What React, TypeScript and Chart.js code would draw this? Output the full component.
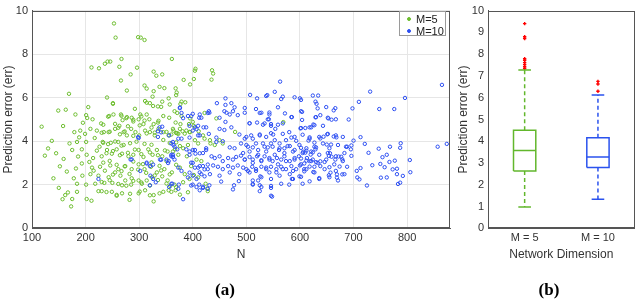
import React, { useEffect, useRef } from 'react';
import { Chart, registerables } from 'chart.js';

Chart.register(...registerables);
Chart.defaults.font.family = "'Liberation Sans', Arial, Helvetica, sans-serif";
Chart.defaults.color = '#333333';

// ---------- (a) scatter data: [N, prediction error] ----------
const m5Points: [number, number][] = [
  [253, 9.41], [256, 8.76], [298, 8.78], [303, 8.76], [310, 8.65],
  [211, 7.39], [225, 7.35], [236, 7.56], [241, 7.66], [246, 7.66], [267, 7.78], [263, 7.42], [296, 7.38], [284, 7.07], [327, 7.2], [332, 7.01], [343, 7.07], [361, 7.78],
  [383, 6.82], [405, 7.33], [404, 7.24], [402, 6.86], [395, 6.61], [436, 7.26], [438, 7.11], [435, 6.83],
  [266, 6.79], [277, 6.33], [310, 6.56], [314, 6.42], [327, 6.3], [338, 6.5], [347, 6.44], [355, 5.97], [368, 6.43], [370, 6.24], [369, 6.12],
  [169, 6.18], [240, 6.01], [251, 5.75], [149, 5.41], [163, 5.45], [181, 5.23], [205, 5.57], [201, 5.2], [203, 5.07], [118, 4.67], [130, 3.67],
  [311, 5.85], [320, 5.75], [325, 6.05], [335, 5.6], [343, 5.82], [379, 5.82], [386, 5.79], [377, 5.71],
  [213, 5.01], [229, 4.82], [244, 5.16], [252, 5.23], [266, 5.23], [269, 4.97], [277, 5.11], [286, 5.08], [289, 4.91], [299, 5.01], [302, 5.23], [314, 5.23], [319, 5.01], [308, 4.79], [327, 4.79], [336, 4.94], [345, 5.16], [356, 5.08], [366, 5.38], [368, 4.86], [377, 4.79],
  [179, 4.42], [190, 4.49], [199, 4.34], [209, 4.57], [221, 4.49], [234, 4.42], [243, 4.42],
  [255, 4.57], [263, 4.71], [271, 4.42], [277, 4.27], [285, 4.57], [293, 4.42], [300, 4.27], [311, 4.49],
  [320, 4.42], [329, 4.27], [336, 4.57], [345, 4.42], [355, 4.27], [364, 4.49], [373, 4.34],
  [184, 3.97], [201, 3.97], [232, 3.97], [247, 3.93], [261, 3.97], [271, 3.83],
  [124, 3.34], [159, 3.19], [175, 3.6], [193, 3.63], [202, 3.38],
  [214, 3.23], [221, 3.57], [230, 3.31], [240, 3.6], [249, 3.43], [258, 3.63], [268, 3.43], [280, 3.31],
  [289, 3.38], [299, 3.6], [308, 3.28], [317, 3.63], [325, 3.38], [333, 3.6], [343, 3.31], [353, 3.53], [367, 3.63],
  [193, 2.98], [212, 2.79], [227, 2.83], [246, 2.89], [261, 2.72], [274, 2.86],
  [286, 2.72], [299, 2.94], [310, 2.72], [322, 2.83], [333, 2.57], [347, 2.72], [361, 2.57],
  [165, 2.61], [182, 2.75], [194, 2.42], [209, 2.49], [224, 2.42], [243, 2.35], [255, 2.57],
  [265, 2.42], [274, 2.2], [286, 2.3], [299, 2.2], [314, 2.2], [324, 2.35], [343, 2.39], [353, 2.2],
  [184, 2.05], [201, 2.01], [218, 2.05], [235, 2.09], [250, 2.09], [268, 1.98], [285, 2.01], [305, 2.05],
  [150, 1.86], [162, 1.53], [167, 1.65], [157, 1.34], [175, 1.35], [184, 1.68], [173, 1.01],
  [202, 1.35], [211, 1.27], [224, 1.71], [230, 1.71], [249, 1.68], [258, 1.5], [268, 1.61], [282, 1.31], [299, 1.61],
  [311, 1.75], [327, 1.53], [345, 1.68], [355, 1.75], [327, 1.24], [358, 1.95],
  [422, 5.3], [371, 5.3], [379, 5.16], [395, 5.05], [400, 4.89], [393, 4.79], [402, 4.71], [388, 4.49], [395, 4.42],
  [363, 4.57], [376, 4.57], [381, 4.46], [371, 4.37],
  [411, 4.46], [419, 4.27], [422, 4.12], [432, 4.05], [433, 3.9], [441, 3.83], [444, 5.05],
  [479, 4.43], [450, 4.05], [569, 4.88],
  [404, 4.05], [410, 3.9], [391, 3.83], [382, 3.68], [376, 3.78],
  [363, 3.53], [373, 3.38], [389, 3.31], [407, 3.16], [416, 3.09], [397, 2.86], [456, 3.9],
  [376, 2.79], [385, 2.49], [402, 2.45], [410, 2.34], [394, 2.27],
  [366, 2.01], [368, 1.75], [360, 1.68], [427, 1.83], [428, 1.71], [424, 2.05],
  // denser core (read from a closer look)
  [251, 5.72], [292, 5.49], [314, 5.77], [326, 5.62], [341, 5.58], [357, 5.69],
  [242, 5.13], [267, 5.17], [276, 5.06], [289, 4.99], [304, 5.14], [233, 4.76], [255, 4.8], [261, 4.62], [279, 4.69], [301, 4.73], [310, 4.95], [323, 4.63], [335, 4.86],
  [230, 4.39], [245, 4.44], [264, 4.32], [273, 4.45], [289, 4.25], [314, 4.36], [329, 4.4], [351, 4.43], [360, 4.31], [369, 4.38], [385, 4.35], [394, 4.43],
  [233, 3.93], [242, 3.87], [255, 3.99], [267, 3.8], [283, 3.91], [295, 3.98], [310, 3.88], [323, 3.84], [345, 4.06], [357, 3.92], [369, 3.95],
  [239, 3.45], [251, 3.55], [264, 3.36], [279, 3.47], [292, 3.62], [304, 3.41], [320, 3.49], [335, 3.36], [348, 3.58],
  [233, 3.02], [245, 3.1], [258, 2.92], [273, 2.85], [289, 3.07], [307, 2.95], [323, 3.03], [338, 2.87], [351, 3.09], [369, 2.92],
  [236, 2.65], [251, 2.47], [267, 2.63], [282, 2.5], [298, 2.7], [313, 2.55], [329, 2.43], [341, 2.66], [357, 2.48],
  [230, 2.13], [245, 2.21], [261, 2.04], [276, 1.96], [289, 2.18], [304, 2.11], [320, 1.97], [335, 2.22], [351, 2.06], [369, 1.89], [382, 2.12],
  [239, 1.67], [258, 1.54], [283, 1.59], [301, 1.69], [320, 1.52], [338, 1.61], [376, 1.55], [391, 1.66],
  [137, 4.02], [145, 3.45], [152, 2.85], [140, 2.3], [188, 4.18], [170, 3.9], [158, 4.7], [195, 4.85], [178, 2.3], [186, 3.3], [215, 2.65], [207, 3.05], [217, 4.15], [226, 3.75],
];

const m10Points: [number, number][] = [
  [865, 6.59], [731, 6.28], [796, 5.99], [624, 6.1], [634, 6.1], [602, 5.9], [629, 5.82], [631, 5.72], [649, 5.57], [666, 5.52], [663, 5.42], [633, 5.51], [698, 5.51], [710, 5.81], [748, 5.48], [776, 5.48],
  [604, 5.35], [638, 5.2], [629, 5.1], [653, 5.05], [659, 4.99], [691, 5.0], [604, 4.98], [625, 4.77], [610, 4.61], [601, 4.59],
  [651, 4.32], [663, 4.22], [668, 4.18], [638, 4.13], [644, 4.21], [605, 4.3], [618, 4.18], [616, 4.03], [713, 4.19], [700, 4.03], [696, 3.81],
  [627, 3.94], [650, 3.85], [658, 3.85], [721, 3.88], [788, 3.91], [787, 3.7], [857, 3.75], [874, 3.88], [747, 3.66], [768, 3.75], [688, 3.75], [695, 3.63], [629, 3.63], [602, 3.7], [606, 3.52],
  [620, 3.39], [610, 3.48], [656, 3.45], [654, 3.33], [659, 3.29], [672, 3.3], [677, 3.29], [679, 3.17], [696, 3.33], [728, 3.47], [754, 3.27], [762, 3.38], [777, 3.11], [767, 3.05], [805, 3.14], [806, 2.58],
  [602, 3.21], [612, 3.11], [608, 2.98], [600, 2.89], [624, 3.16], [630, 3.04], [638, 3.08], [646, 3.05], [618, 2.84], [627, 2.83], [638, 2.86], [655, 2.81], [666, 3.16], [674, 2.84], [688, 2.83],
  [735, 2.9], [750, 2.96], [758, 2.81], [773, 2.71], [781, 2.74], [781, 2.49], [713, 2.77], [706, 2.64], [625, 2.59], [608, 2.62], [602, 2.37], [657, 2.56], [654, 2.44], [669, 2.48], [679, 2.48],
  [636, 2.31], [669, 2.33], [707, 2.34], [711, 2.25], [751, 2.33], [762, 2.34], [792, 2.41], [787, 2.1], [783, 2.04], [618, 2.16], [725, 1.97],
  [563, 6.74], [507, 6.13], [520, 5.97], [537, 6.08], [553, 6.27], [568, 6.05], [590, 6.02], [600, 5.97], [539, 6.12], [565, 5.94], [461, 5.97],
  [445, 5.75], [472, 5.75], [459, 5.38], [475, 5.38], [463, 5.31],
  [497, 5.53], [518, 5.48], [528, 5.31], [543, 5.23], [559, 5.56], [572, 5.28], [585, 5.11],
  [379, 5.3], [391, 5.16], [400, 5.26], [416, 5.08], [431, 5.31],
  [376, 5.52], [404, 4.64], [412, 5.08], [420, 4.64], [430, 5.38], [450, 5.08], [461, 5.67], [469, 5.23], [478, 5.56], [379, 4.12], [430, 4.34], [444, 3.97],
  [484, 5.2], [506, 4.83], [520, 4.86], [534, 4.82], [546, 4.79], [542, 5.01], [559, 4.76], [554, 4.57], [568, 4.82],
  [461, 4.89], [450, 4.57], [459, 4.52], [472, 4.64], [618, 4.64], [627, 4.74],
  [400, 4.49], [410, 4.71], [413, 4.27], [394, 4.17],
  [487, 4.31], [497, 4.12], [509, 4.27], [525, 4.31], [537, 4.2],
  [546, 4.37], [553, 4.05], [562, 3.9], [574, 4.05], [584, 4.17], [593, 4.02],
  [444, 4.17], [456, 4.0], [469, 3.72], [478, 3.68],
  [500, 3.83], [512, 3.72], [522, 3.6], [531, 3.9], [540, 3.72],
  [549, 3.75], [561, 3.6], [571, 3.68], [581, 3.78], [590, 3.6], [612, 3.57], [624, 3.49], [630, 3.72],
  [363, 3.97], [371, 3.63], [360, 3.31], [366, 3.16],
  [388, 3.63], [400, 3.6], [394, 3.38], [405, 3.43], [419, 3.46], [425, 3.68], [435, 3.31],
  [441, 3.23], [450, 3.31], [456, 3.09], [466, 3.23], [475, 3.16], [481, 3.28],
  [490, 3.34], [497, 3.16], [506, 3.28], [512, 3.16], [520, 3.31],
  [528, 3.13], [534, 3.31], [543, 3.23], [549, 3.09], [557, 3.23],
  [565, 3.16], [571, 3.31], [581, 3.09], [590, 3.23], [598, 3.31], [613, 3.23], [621, 3.09],
  [400, 3.01], [410, 2.79], [419, 2.86], [428, 2.72], [438, 2.89],
  [447, 2.83], [456, 2.72], [466, 2.86], [475, 2.79], [484, 2.89],
  [494, 2.79], [503, 2.64], [511, 2.83], [518, 2.72], [528, 2.83],
  [537, 2.72], [546, 2.83], [556, 2.72], [565, 2.83], [574, 2.72], [584, 2.86], [593, 2.72], [612, 2.72],
  [413, 2.57], [422, 2.39], [432, 2.49], [450, 2.42], [469, 2.57],
  [487, 2.49], [506, 2.57], [526, 2.39], [543, 2.57], [562, 2.42], [581, 2.49],
  [391, 2.34], [400, 2.01], [412, 2.01], [419, 1.86], [431, 1.98],
  [453, 2.15], [477, 1.98], [486, 2.17], [525, 1.98], [546, 1.95], [585, 2.27], [599, 2.39],
  [525, 1.71], [546, 1.5], [382, 1.34], [522, 2.2], [512, 2.04], [475, 1.79],
  [343, 4.67], [335, 4.46], [299, 4.15], [373, 4.12], [356, 4.27], [364, 3.83],
  [284, 3.16], [314, 2.98], [320, 2.86], [302, 2.64], [339, 3.16], [355, 3.09], [360, 3.38], [363, 3.28],
  [224, 2.27], [331, 2.12], [320, 1.98], [356, 1.9], [362, 2.05], [374, 2.01],
  // denser core (read from a closer look)
  [376, 5.55], [382, 5.06], [397, 5.15], [413, 5.23], [428, 5.3], [394, 4.71], [407, 4.56], [425, 4.64], [410, 4.27],
  [338, 4.64], [341, 4.41], [298, 4.19], [335, 4.2], [360, 3.9], [366, 3.75], [394, 3.53], [404, 3.6], [413, 3.45], [425, 3.6],
  [363, 3.38], [351, 3.16], [286, 3.17], [314, 3.02], [326, 2.93], [341, 3.15], [354, 3.0], [397, 3.02], [404, 2.79], [413, 2.86], [422, 2.71], [428, 2.93],
  [373, 2.79], [379, 2.64], [394, 2.56], [400, 2.42], [407, 2.27], [416, 2.49], [321, 2.42], [326, 2.27], [360, 2.05], [373, 1.82], [397, 1.97], [407, 1.9], [413, 1.75], [419, 1.91], [428, 1.82],
  [497, 5.31], [525, 5.3], [543, 5.32], [540, 5.01], [546, 4.71], [506, 4.82], [531, 4.76], [584, 5.11], [602, 5.38], [630, 5.11], [652, 5.08], [667, 5.01], [602, 4.61], [621, 4.64], [643, 4.71],
  [500, 4.2], [512, 4.12], [525, 4.27], [550, 4.31], [568, 4.34], [580, 4.42], [590, 4.2], [618, 4.12], [636, 4.2], [652, 4.34], [667, 4.27], [680, 4.2],
  [490, 3.9], [503, 3.75], [518, 3.9], [534, 3.75], [546, 3.9], [562, 3.68], [577, 3.78], [599, 3.83], [612, 3.68], [627, 3.75], [643, 3.9], [655, 3.68], [671, 3.83], [686, 3.75],
  [494, 3.46], [506, 3.53], [522, 3.38], [537, 3.53], [553, 3.38], [571, 3.46], [587, 3.53], [605, 3.46], [621, 3.53], [636, 3.38], [652, 3.46], [667, 3.31], [683, 3.46],
  [497, 3.16], [512, 3.01], [528, 3.09], [543, 3.16], [559, 2.94], [574, 3.09], [590, 3.16], [602, 2.94], [618, 3.09], [633, 3.01], [649, 3.16], [664, 2.94], [680, 3.09],
  [500, 2.72], [518, 2.64], [537, 2.79], [556, 2.57], [568, 2.72], [587, 2.64], [608, 2.72], [627, 2.57], [646, 2.72], [667, 2.64], [683, 2.49],
  [512, 2.2], [528, 2.35], [546, 2.27], [565, 2.05], [587, 2.27], [605, 2.05], [636, 2.27], [655, 2.35], [671, 2.2],
  [512, 2.01], [528, 1.9], [546, 1.86], [580, 2.01], [548, 1.46],
];

const seriesLabels = ['M=5', 'M=10'];
const scatterXTicks = [100, 200, 300, 400, 500, 600, 700, 800];
const scatterYTicks = [0, 2, 4, 6, 8, 10];

// ---------- (b) box plot statistics ----------
const boxLabels = ['M = 5', 'M = 10'];
const boxQ1 = [2.63, 2.8];
const boxMedian = [3.58, 3.28];
const boxQ3 = [4.51, 4.16];
const boxWhiskerLow = [0.98, 1.34];
const boxWhiskerHigh = [7.27, 6.12];
const boxOutliers: number[][] = [
  [7.34, 7.42, 7.52, 7.61, 7.72, 7.79, 8.72, 8.8, 9.4],
  [6.3, 6.63, 6.75],
];

const GREEN = '#6dbd2f';
const BLUE = '#2d4ff2';
const BOX_GREEN = '#62b72c';
const BOX_BLUE = '#2a52ee';
const AXIS = '#555555';

const framePlugin = {
  id: 'frame',
  afterDraw(chart: any) {
    const { ctx, chartArea: a } = chart;
    ctx.save();
    ctx.strokeStyle = AXIS;
    ctx.lineWidth = 1;
    const l = Math.round(a.left) + 0.5;
    const t = Math.round(a.top) + 0.5;
    const r = Math.round(a.right) - 0.5;
    const b = Math.round(a.bottom) - 0.5;
    ctx.strokeRect(l, t, r - l, b - t);
    ctx.restore();
  },
};

const tickFont = { size: 11 };
const titleFont = { size: 12 };

function ScatterChart() {
  const ref = useRef<HTMLCanvasElement>(null);
  useEffect(() => {
    if (!ref.current) return;
    const chart = new Chart(ref.current, {
      type: 'scatter',
      data: {
        datasets: [
          {
            label: seriesLabels[1],
            data: m10Points.map(([x, y]) => ({ x, y })),
            borderColor: BLUE,
            backgroundColor: 'rgba(0,0,0,0)',
            pointRadius: 1.7,
            pointBorderWidth: 1,
            order: 0,
          },
          {
            label: seriesLabels[0],
            data: m5Points.map(([x, y]) => ({ x, y })),
            borderColor: GREEN,
            backgroundColor: 'rgba(0,0,0,0)',
            pointRadius: 1.7,
            pointBorderWidth: 1,
            order: 1,
          },
        ],
      },
      options: {
        animation: false,
        responsive: false,
        events: [],
        layout: { padding: { left: 0, top: 6, right: 10, bottom: 37 } },
        plugins: { legend: { display: false }, tooltip: { enabled: false } },
        scales: {
          x: {
            type: 'linear',
            min: 100,
            max: 880,
            afterBuildTicks: (s: any) => {
              s.ticks = scatterXTicks.map((v) => ({ value: v }));
            },
            ticks: { font: tickFont, padding: 3, color: '#333' },
            grid: { color: '#e6e6e6', drawTicks: false },
            border: { color: AXIS },
            title: { display: true, text: 'N', font: titleFont, padding: { top: 0, bottom: 4 }, color: '#333' },
          },
          y: {
            type: 'linear',
            min: 0,
            max: 10,
            afterBuildTicks: (s: any) => {
              s.ticks = scatterYTicks.map((v) => ({ value: v }));
            },
            afterFit: (s: any) => {
              s.width = 32;
            },
            ticks: { font: tickFont, padding: 4, color: '#333' },
            grid: { color: '#e6e6e6', drawTicks: false },
            border: { color: AXIS },
            title: { display: true, text: 'Prediction error (err)', font: titleFont, padding: { top: 1, bottom: 0 }, color: '#333' },
          },
        },
      } as any,
      plugins: [framePlugin],
    });
    return () => chart.destroy();
  }, []);
  return <canvas ref={ref} width={460} height={303} style={{ position: 'absolute', left: 0, top: 0 }} />;
}

function BoxChart() {
  const ref = useRef<HTMLCanvasElement>(null);
  useEffect(() => {
    if (!ref.current) return;
    const BW = 0.152;
    const CW = 0.086;
    const colors = [BOX_GREEN, BOX_BLUE];
    const datasets: any[] = boxLabels.flatMap((_, i) => {
      const c = i + 1;
      const col = colors[i];
      const line = (pts: { x: number; y: number }[], dash: number[] = []) => ({
        data: pts,
        showLine: true,
        borderColor: col,
        backgroundColor: col,
        borderWidth: 1.5,
        borderDash: dash,
        pointRadius: 0,
        fill: false,
        tension: 0,
      });
      return [
        line([
          { x: c - BW, y: boxQ1[i] },
          { x: c + BW, y: boxQ1[i] },
          { x: c + BW, y: boxQ3[i] },
          { x: c - BW, y: boxQ3[i] },
          { x: c - BW, y: boxQ1[i] },
        ]),
        line([
          { x: c - BW, y: boxMedian[i] },
          { x: c + BW, y: boxMedian[i] },
        ]),
        line([
          { x: c, y: boxQ3[i] },
          { x: c, y: boxWhiskerHigh[i] },
        ], [4, 3]),
        line([
          { x: c, y: boxQ1[i] },
          { x: c, y: boxWhiskerLow[i] },
        ], [4, 3]),
        line([
          { x: c - CW, y: boxWhiskerHigh[i] },
          { x: c + CW, y: boxWhiskerHigh[i] },
        ]),
        line([
          { x: c - CW, y: boxWhiskerLow[i] },
          { x: c + CW, y: boxWhiskerLow[i] },
        ]),
        {
          data: boxOutliers[i].map((y) => ({ x: c, y })),
          showLine: false,
          pointStyle: 'cross',
          pointRadius: 1.7,
          pointBorderWidth: 1.4,
          borderColor: '#ff0000',
          backgroundColor: '#ff0000',
        },
      ];
    });
    const chart = new Chart(ref.current, {
      type: 'scatter',
      data: { datasets },
      options: {
        animation: false,
        responsive: false,
        events: [],
        layout: { padding: { left: 36, top: 7, right: 1, bottom: 37 } },
        plugins: { legend: { display: false }, tooltip: { enabled: false } },
        scales: {
          x: {
            type: 'linear',
            min: 0.5,
            max: 2.5,
            afterBuildTicks: (s: any) => {
              s.ticks = boxLabels.map((_, i) => ({ value: i + 1 }));
            },
            ticks: {
              font: tickFont,
              padding: 3,
              color: '#333',
              callback: (v: any) => boxLabels[Math.round(Number(v)) - 1] ?? '',
            },
            grid: { display: false, drawTicks: false },
            border: { color: AXIS },
            title: { display: true, text: 'Network Dimension', font: titleFont, padding: { top: 0, bottom: 4 }, color: '#333' },
          },
          y: {
            type: 'linear',
            min: 0,
            max: 10,
            ticks: { stepSize: 1, font: tickFont, padding: 4, color: '#333' },
            afterFit: (s: any) => {
              s.width = 32;
            },
            grid: { display: false, drawTicks: false },
            border: { color: AXIS },
            title: { display: true, text: 'Prediction error (err)', font: titleFont, padding: { top: 0, bottom: 0 }, color: '#333' },
          },
        },
      } as any,
      plugins: [framePlugin],
    });
    return () => chart.destroy();
  }, []);
  return <canvas ref={ref} width={220} height={303} style={{ position: 'absolute', left: 420, top: 0 }} />;
}

const legendColors = [GREEN, BLUE];

export default function App() {
  return (
    <div style={{ position: 'absolute', left: 0, top: 0, width: 640, height: 303, background: '#fff', overflow: 'hidden' }}>
      <ScatterChart />
      <BoxChart />
      <div
        style={{
          position: 'absolute',
          left: 399,
          top: 11,
          width: 47,
          height: 25,
          boxSizing: 'border-box',
          border: '1px solid #9a9a9a',
          background: '#fff',
          fontFamily: "'Liberation Sans', Arial, sans-serif",
          fontSize: 11,
          color: '#222',
        }}
      >
        {seriesLabels.map((lab, i) => (
          <div key={lab} style={{ position: 'absolute', left: 0, top: 1 + i * 11.5, height: 12, lineHeight: '12px', whiteSpace: 'nowrap' }}>
            <span
              style={{
                position: 'absolute',
                left: 7,
                top: 4,
                width: 4,
                height: 4,
                borderRadius: '50%',
                border: `1px solid ${legendColors[i]}`,
                background: legendColors[i],
                boxSizing: 'border-box',
              }}
            />
            <span style={{ position: 'absolute', left: 16 }}>{lab}</span>
          </div>
        ))}
      </div>
      <div style={{ position: 'absolute', left: 195, top: 280, width: 60, textAlign: 'center', fontFamily: "'Liberation Serif', 'Times New Roman', serif", fontWeight: 'bold', fontSize: 17 }}>
        (a)
      </div>
      <div style={{ position: 'absolute', left: 519, top: 280, width: 60, textAlign: 'center', fontFamily: "'Liberation Serif', 'Times New Roman', serif", fontWeight: 'bold', fontSize: 17 }}>
        (b)
      </div>
    </div>
  );
}
